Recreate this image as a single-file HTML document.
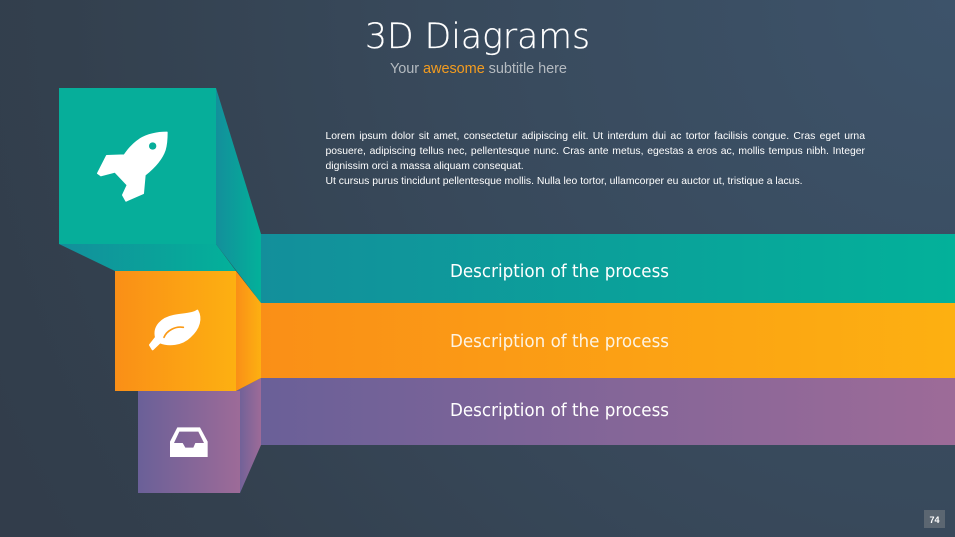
<!DOCTYPE html>
<html><head><meta charset="utf-8"><style>
html,body{margin:0;padding:0;width:955px;height:537px;overflow:hidden;background:#36434f}
svg{position:absolute;left:0;top:0}
.l{position:absolute;left:325.5px;width:539.5px;font:10.4px/15px "Liberation Sans",sans-serif;color:#fff;white-space:nowrap}
.j{text-align:justify;text-align-last:justify;white-space:normal}
</style></head><body>
<svg width="955" height="537" viewBox="0 0 955 537" xmlns="http://www.w3.org/2000/svg">
<defs>
<radialGradient id="bg" gradientUnits="userSpaceOnUse" cx="955" cy="0" r="1050">
<stop offset="0" stop-color="#3d536a"/><stop offset=".5" stop-color="#38495b"/><stop offset=".85" stop-color="#33404e"/><stop offset="1" stop-color="#323d4b"/></radialGradient>
<linearGradient id="tb" x1="0" x2="1" y1="0" y2="0"><stop offset="0" stop-color="#138f9b"/><stop offset="1" stop-color="#03b19a"/></linearGradient>
<linearGradient id="ob" x1="0" x2="1" y1="0" y2="0"><stop offset="0" stop-color="#fa8f17"/><stop offset="1" stop-color="#fdb011"/></linearGradient>
<linearGradient id="pb" x1="0" x2="1" y1="0" y2="0"><stop offset="0" stop-color="#6a6098"/><stop offset="1" stop-color="#9d6b98"/></linearGradient>
</defs>
<rect width="955" height="537" fill="url(#bg)"/>
<!-- bands -->
<rect x="261" y="234" width="694" height="69" fill="url(#tb)"/>
<rect x="261" y="303" width="694" height="75" fill="url(#ob)"/>
<rect x="261" y="378" width="694" height="67" fill="url(#pb)"/>
<!-- teal block -->
<polygon points="59,244 216,244 236,271 115,271" fill="url(#tb)"/>
<polygon points="216,88 261,234 261,303 216,244" fill="url(#tb)"/>
<rect x="59" y="88" width="157" height="156" fill="#06ae9a"/>
<!-- purple block -->
<polygon points="236,391 261,378 261,445 240,493 240,391" fill="url(#pb)"/>
<rect x="138" y="391" width="102" height="102" fill="url(#pb)"/>
<!-- orange block -->
<polygon points="236,271 261,303 261,378 236,391" fill="url(#ob)"/>
<rect x="115" y="271" width="121" height="120" fill="url(#ob)"/>
<!-- rocket -->
<g transform="translate(90,125) scale(.33333)">
<path fill="#fff" stroke="#fff" stroke-width="4" stroke-linejoin="round" d="M231 22C200 22 170 30 150 42C130 55 115 72 103 90L50 92L23 145L33 152L75 141L112 180L98 210L108 228L160 205L165 150C190 130 215 105 225 75C231 55 231 35 231 22Z"/>
<circle cx="188" cy="63" r="11" fill="#06ae9a"/>
</g>
<!-- leaf -->
<g transform="translate(140,300) scale(.33333)">
<path fill="#fff" stroke="#fff" stroke-width="6" stroke-linejoin="round" d="M172 32C160 42 130 42 100 48C65 55 40 80 48 112L30 135L38 148L60 127C85 137 125 135 150 110C178 85 185 55 172 32Z"/>
<path fill="none" stroke="#fb9a15" stroke-width="5" stroke-linecap="round" d="M72 112C80 92 105 78 130 82"/>
</g>
<!-- inbox -->
<g transform="translate(160,415) scale(.33333)">
<path fill="#fff" fill-rule="evenodd" d="M52 37H120L143 80V126H30V80ZM58 50L42 84H68L76 98H100L106 84H132L115 50Z"/>
</g>
<!-- text -->
<text x="365" y="48" font-family="DejaVu Sans,Liberation Sans,sans-serif" font-weight="200" font-size="35" fill="#fff" stroke="#fff" stroke-width=".25" textLength="225" lengthAdjust="spacingAndGlyphs">3D Diagrams</text>
<text x="390" y="73" font-family="Liberation Sans,sans-serif" font-size="14.5" fill="#b4bac0" textLength="177" lengthAdjust="spacing">Your <tspan fill="#f39c1f">awesome</tspan> subtitle here</text>
<g font-family="DejaVu Sans Condensed,DejaVu Sans,sans-serif" font-size="17.5" fill="#fff">
<text x="450" y="277" textLength="219" lengthAdjust="spacingAndGlyphs">Description of the process</text>
<text x="450" y="347" textLength="219" lengthAdjust="spacingAndGlyphs" fill="#fdf3e2">Description of the process</text>
<text x="450" y="416" textLength="219" lengthAdjust="spacingAndGlyphs">Description of the process</text>
</g>
<rect x="924" y="510" width="21" height="18" fill="#5b6671"/>
<text x="934.5" y="523" text-anchor="middle" font-family="Liberation Sans,sans-serif" font-size="9" font-weight="bold" fill="#fff">74</text>
</svg>
<div class="l j" style="top:129px">Lorem ipsum dolor sit amet, consectetur adipiscing elit. Ut interdum dui ac tortor facilisis congue. Cras eget urna</div>
<div class="l j" style="top:144px">posuere, adipiscing tellus nec, pellentesque nunc. Cras ante metus, egestas a eros ac, mollis tempus nibh. Integer</div>
<div class="l" style="top:159px">dignissim orci a massa aliquam consequat.</div>
<div class="l" style="top:174px">Ut cursus purus tincidunt pellentesque mollis. Nulla leo tortor, ullamcorper eu auctor ut, tristique a lacus.</div>
</body></html>
